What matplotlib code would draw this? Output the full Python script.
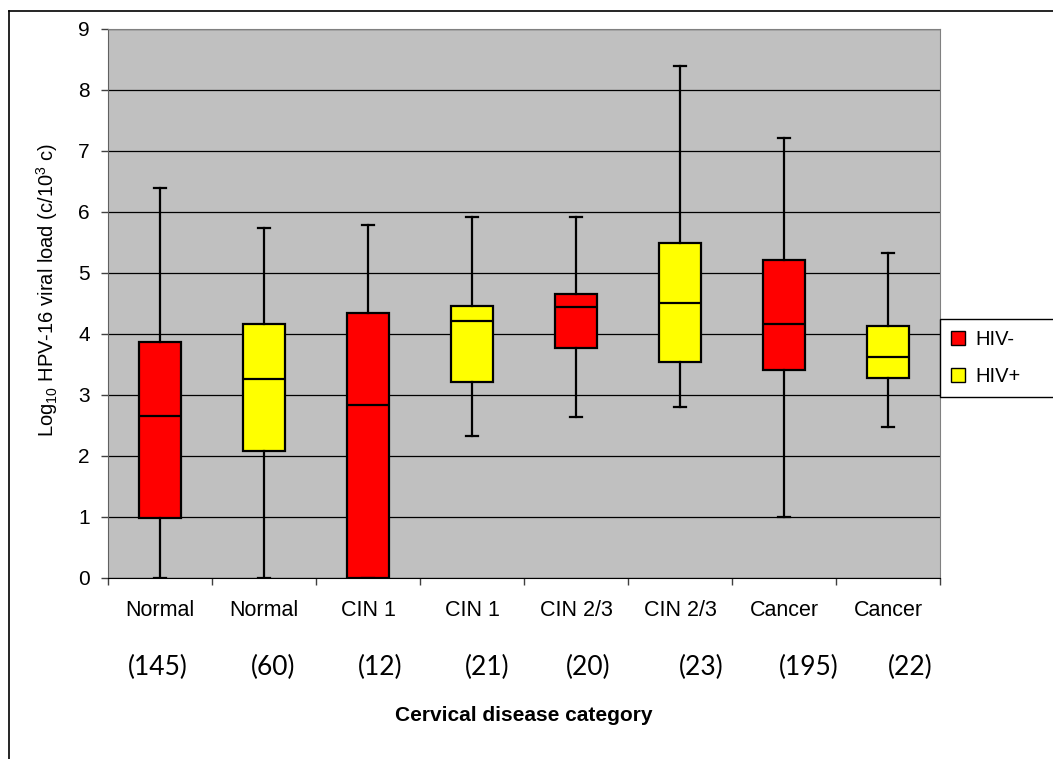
import matplotlib
matplotlib.use('Agg')
import matplotlib.pyplot as plt
from matplotlib.patches import Patch
from matplotlib.lines import Line2D

plt.rcParams['font.family'] = ['Liberation Sans', 'DejaVu Sans']
plt.rcParams['mathtext.fontset'] = 'custom'
plt.rcParams['mathtext.rm'] = 'Liberation Sans'
plt.rcParams['mathtext.it'] = 'Liberation Sans:italic'

# donnees (log10 charge virale)
categories = ['Normal', 'Normal', 'CIN 1', 'CIN 1', 'CIN 2/3', 'CIN 2/3', 'Cancer', 'Cancer']
groups = ['HIV-', 'HIV+', 'HIV-', 'HIV+', 'HIV-', 'HIV+', 'HIV-', 'HIV+']
counts = [145, 60, 12, 21, 20, 23, 195, 22]
whis_low = [0.0, 0.0, 0.0, 2.33, 2.64, 2.81, 1.0, 2.48]
q1 = [0.98, 2.08, 0.0, 3.22, 3.77, 3.54, 3.41, 3.28]
median = [2.66, 3.26, 2.84, 4.22, 4.44, 4.51, 4.17, 3.62]
q3 = [3.87, 4.16, 4.35, 4.46, 4.66, 5.49, 5.22, 4.13]
whis_high = [6.39, 5.73, 5.79, 5.92, 5.92, 8.39, 7.22, 5.33]

colors = {'HIV-': '#ff0000', 'HIV+': '#ffff00'}

fig = plt.figure(figsize=(10.53, 7.59), dpi=100)
ax = fig.add_axes([0.1026, 0.2385, 0.7901, 0.7233])
ax.set_facecolor('#c0c0c0')

stats = []
for i in range(len(categories)):
    stats.append({'med': median[i], 'q1': q1[i], 'q3': q3[i],
                  'whislo': whis_low[i], 'whishi': whis_high[i], 'fliers': []})

pos = list(range(1, len(categories) + 1))
bp = ax.bxp(stats, positions=pos, widths=0.41, capwidths=0.12, patch_artist=True,
            showfliers=False,
            boxprops=dict(edgecolor='black', linewidth=1.6),
            medianprops=dict(color='black', linewidth=1.6),
            whiskerprops=dict(color='black', linewidth=1.6),
            capprops=dict(color='black', linewidth=1.6))
for box, g in zip(bp['boxes'], groups):
    box.set_facecolor(colors[g])

ax.set_xlim(0.5, len(categories) + 0.5)
ax.set_ylim(0, 9)
ax.set_yticks(range(0, 10))
ax.yaxis.grid(True, color='black', linewidth=0.9)
ax.set_axisbelow(True)

# ticks majeurs entre categories, labels au centre
ax.set_xticks([p - 0.5 for p in pos] + [len(categories) + 0.5])
ax.set_xticklabels([])
ax.set_xticks(pos, minor=True)
ax.set_xticklabels(categories, minor=True, fontsize=15.5)
ax.tick_params(axis='x', which='minor', length=0, pad=16)
ax.tick_params(axis='x', which='major', length=5, width=1, color='#404040')
ax.tick_params(axis='y', length=5, width=1, pad=8, labelsize=15, color='#404040')

for s in ['top', 'right']:
    ax.spines[s].set_color('#808080')
ax.spines['left'].set_color('#606060')
ax.spines['bottom'].set_color('black')

ax.set_ylabel(r'Log$_{\mathrm{10}}$ HPV-16 viral load (c/10$^{\mathrm{3}}$ c)', fontsize=14.5)
ax.yaxis.set_label_coords(-0.058, 0.525)

# effectifs sous les categories (decalage comme dans l'original)
count_shift = [-0.02, 0.09, 0.12, 0.145, 0.115, 0.2, 0.24, 0.21]
for p, n, d in zip(pos, counts, count_shift):
    ax.text(p + d, -1.46, '(%d)' % n, ha='center', va='center',
            fontsize=19, family=['Lato', 'DejaVu Sans'])

ax.text(4.5, -2.25, 'Cervical disease category', ha='center', va='center',
        fontsize=15, fontweight='bold')

handles = [Patch(facecolor=colors['HIV-'], edgecolor='black', linewidth=1),
           Patch(facecolor=colors['HIV+'], edgecolor='black', linewidth=1)]
leg = fig.legend(handles, ['HIV-', 'HIV+'], loc='upper left',
                 bbox_to_anchor=(0.8927, 1 - 398 / 759, 0.12, 79 / 759), mode='expand',
                 fontsize=14.5, handlelength=0.7, handleheight=0.7, handletextpad=0.5,
                 labelspacing=0.9, borderpad=0.55, fancybox=False, framealpha=1,
                 edgecolor='black', borderaxespad=0)
leg.get_frame().set_linewidth(1)

# cadre de la figure
fig.add_artist(Line2D([9 / 1053, 9 / 1053], [0, 1 - 11 / 759], color='black', linewidth=1.2))
fig.add_artist(Line2D([9 / 1053, 1], [1 - 11 / 759, 1 - 11 / 759], color='black', linewidth=1.2))

plt.savefig('out.png', dpi=100)
